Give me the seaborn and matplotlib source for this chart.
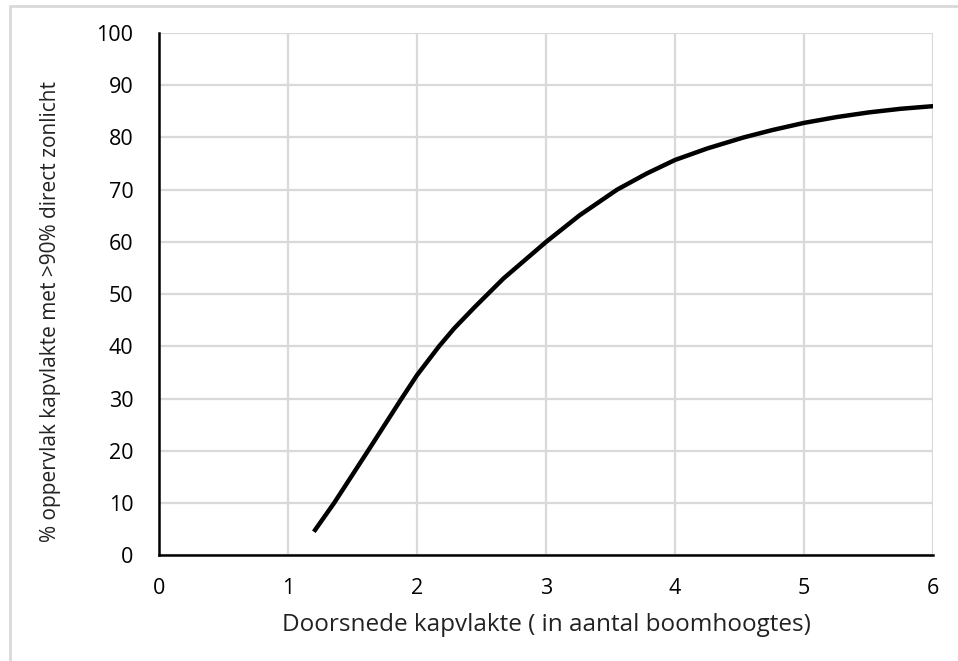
import matplotlib
matplotlib.use("Agg")
import matplotlib.pyplot as plt
import seaborn as sns
from matplotlib.lines import Line2D

# ── Data ──────────────────────────────────────────────────────────────────────
diameter = [1.2, 1.357, 1.62, 1.88, 2.0, 2.17, 2.29, 2.45, 2.67, 3.0, 3.26,
            3.55, 3.78, 4.0, 4.25, 4.53, 4.75, 5.0, 5.25, 5.5, 5.75, 6.0]
sunlit_pct = [4.5, 10.0, 20.0, 30.0, 34.5, 40.0, 43.5, 47.6, 53.0, 60.0, 65.1,
              70.0, 73.1, 75.7, 77.9, 80.0, 81.4, 82.8, 83.9, 84.8, 85.5, 86.0]

x_ticks = [0, 1, 2, 3, 4, 5, 6]
y_ticks = [0, 10, 20, 30, 40, 50, 60, 70, 80, 90, 100]

x_label = "Doorsnede kapvlakte ( in aantal boomhoogtes)"
y_label = "% oppervlak kapvlakte met >90% direct zonlicht"

# ── Style ─────────────────────────────────────────────────────────────────────
sns.set_style("white")
plt.rcParams['font.family'] = ['Open Sans', 'DejaVu Sans']
GRID = '#d9d9d9'

fig = plt.figure(figsize=(9.58, 6.61), dpi=100)
ax = fig.add_axes([0.166, 0.160, 0.808, 0.790])

sns.lineplot(x=diameter, y=sunlit_pct, ax=ax, color='black', linewidth=3.2,
             solid_capstyle='butt', solid_joinstyle='round')

ax.set_xlim(0, 6)
ax.set_ylim(0, 100)
ax.set_xticks(x_ticks)
ax.set_yticks(y_ticks)
ax.tick_params(axis='both', labelsize=15.5, colors='black', length=6.5,
               width=1.5, direction='out')
ax.tick_params(axis='y', pad=12)
ax.tick_params(axis='x', pad=10)

ax.grid(True, color=GRID, linewidth=1.6)
ax.set_axisbelow(True)

for side in ('top', 'right'):
    ax.spines[side].set_visible(False)
for side in ('left', 'bottom'):
    ax.spines[side].set_color('black')
    ax.spines[side].set_linewidth(1.8)
    ax.spines[side].set_zorder(3)

ax.set_xlabel(x_label, fontsize=17.5, labelpad=10, color='#222222')
ax.set_ylabel(y_label, fontsize=15, color='#222222')
ax.yaxis.set_label_coords(-0.127, 0.466)

# light frame around the figure (only left and top edges visible)
fig.add_artist(Line2D([10 / 958, 10 / 958], [0, 1 - 6 / 661],
                      transform=fig.transFigure, color=GRID, linewidth=2))
fig.add_artist(Line2D([10 / 958, 1], [1 - 6 / 661, 1 - 6 / 661],
                      transform=fig.transFigure, color=GRID, linewidth=2))

fig.savefig('out.png', dpi=100)
